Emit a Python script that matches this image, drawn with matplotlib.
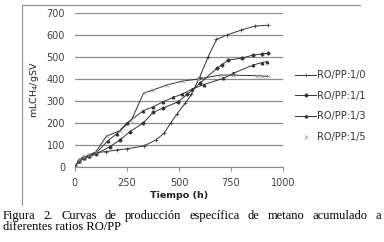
import matplotlib.pyplot as plt
from matplotlib.lines import Line2D

# data (tiempo en h, mLCH4/gSV)
t_10 = [0, 20, 40, 70, 100, 150, 200, 250, 330, 390, 430, 460, 490, 530, 560, 600, 640, 680, 730, 800, 865, 930]
y_10 = [0, 30, 45, 55, 65, 70, 77, 83, 95, 123, 155, 200, 240, 290, 330, 410, 500, 580, 600, 623, 641, 645]

t_11 = [0, 20, 45, 70, 100, 168, 216, 264, 329, 377, 425, 497, 540, 600, 681, 705, 737, 801, 857, 900, 929]
y_11 = [0, 25, 40, 48, 58, 92, 123, 160, 201, 249, 268, 297, 330, 380, 448, 464, 486, 495, 509, 514, 517]

t_13 = [0, 20, 45, 70, 100, 160, 200, 250, 329, 377, 425, 473, 513, 561, 620, 713, 761, 857, 900, 921]
y_13 = [0, 28, 42, 52, 62, 120, 150, 200, 256, 274, 297, 317, 330, 353, 375, 403, 426, 464, 475, 479]

t_15 = [0, 20, 45, 70, 100, 152, 216, 272, 330, 375, 442, 519, 593, 697, 760, 875, 900, 928]
y_15 = [0, 32, 45, 55, 68, 140, 165, 214, 336, 350, 373, 391, 400, 418, 418, 415, 414, 412]

labels = ["RO/PP:1/0", "RO/PP:1/1", "RO/PP:1/3", "RO/PP:1/5"]

fig = plt.figure(figsize=(3.84, 2.42), dpi=100)
ax = fig.add_axes([0.195, 0.31, 0.542, 0.636])

lc = "#333333"
ax.plot(t_10, y_10, color=lc, lw=0.7, marker="+", ms=2.5, mew=0.5, label=labels[0])
ax.plot(t_11, y_11, color=lc, lw=0.7, marker="D", ms=1.6, label=labels[1])
ax.plot(t_13, y_13, color=lc, lw=0.7, marker="^", ms=1.8, label=labels[2])
ax.plot(t_15, y_15, color=lc, lw=0.7)
ax.plot(t_15, y_15, ls="none", marker="x", ms=2.2, mew=0.5, color="#999999", label=labels[3])

ax.set_xlim(0, 1000)
ax.set_ylim(0, 700)
ax.set_xticks([0, 250, 500, 750, 1000])
ax.set_yticks(range(0, 701, 100))
ax.grid(axis="y", color="#8c8c8c", lw=0.9)
ax.set_axisbelow(True)
for s in ["top", "right", "left"]:
    ax.spines[s].set_visible(False)
ax.spines["bottom"].set_color("#8c8c8c")
ax.tick_params(axis="y", length=0, pad=7, labelsize=7, labelcolor="#404040")
ax.tick_params(axis="x", length=3, color="#8c8c8c", pad=5, labelsize=7, labelcolor="#404040")
ax.set_xlabel("Tiempo (h)", fontsize=6.8, fontweight="bold", labelpad=2, color="#222222")
ax.set_ylabel("mLCH$_4$/gSV", fontsize=6.8, labelpad=4, color="#222222")

ax.legend(loc="center left", bbox_to_anchor=(0.745, 0.562), bbox_transform=fig.transFigure,
          frameon=False, fontsize=7, handlelength=2.2, handletextpad=0.1,
          labelspacing=1.1, labelcolor="#333333")

# chart frame (top and left edge only visible)
fig.add_artist(Line2D([22 / 384, 22 / 384], [1 - 205 / 242, 1 - 5 / 242], color="#8c8c8c", lw=0.8))
fig.add_artist(Line2D([22 / 384, 360 / 384], [1 - 5 / 242, 1 - 5 / 242], color="#8c8c8c", lw=0.8))

# caption, first line justified
cap1 = "Figura 2. Curvas de producción específica de metano acumulado a".split()
cap2 = "diferentes ratios RO/PP"
fs = 9
y1 = 1 - 219 / 242
y2 = 1 - 230 / 242
r = fig.canvas.get_renderer()
widths = []
texts = []
for w in cap1:
    t = fig.text(0, y1, w, family="Liberation Serif", fontsize=fs, va="baseline")
    texts.append(t)
    widths.append(t.get_window_extent(r).width)
x0, x1 = 3, 381
gap = (x1 - x0 - sum(widths)) / (len(cap1) - 1)
x = x0
for t, w in zip(texts, widths):
    t.set_x(x / 384)
    x += w + gap
fig.text(3 / 384, y2, cap2, family="Liberation Serif", fontsize=fs, va="baseline")

fig.savefig("out.png", dpi=100)
